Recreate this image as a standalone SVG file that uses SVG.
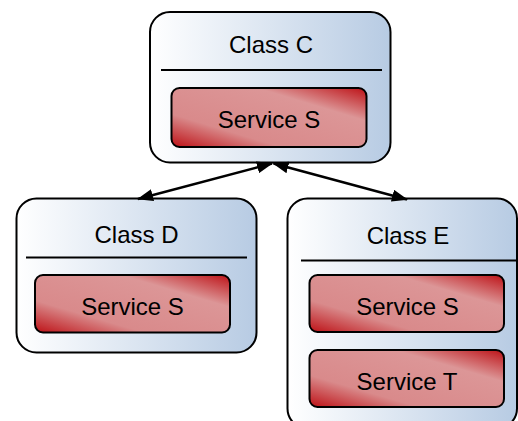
<svg xmlns="http://www.w3.org/2000/svg" width="518" height="421" viewBox="0 0 518 421">
  <defs>
    <linearGradient id="classFill" x1="0" y1="0" x2="1" y2="0">
      <stop offset="0" stop-color="#ffffff"/>
      <stop offset="1" stop-color="#b7cbe3"/>
    </linearGradient>
    <linearGradient id="serviceFill" x1="0" y1="1" x2="1" y2="0">
      <stop offset="0" stop-color="#bd1116"/>
      <stop offset="0.28" stop-color="#d98a8b"/>
      <stop offset="0.72" stop-color="#dc9697"/>
      <stop offset="1" stop-color="#bd1116"/>
    </linearGradient>
    <marker id="head" viewBox="0 0 16 12" refX="15" refY="6" markerWidth="16" markerHeight="12" markerUnits="userSpaceOnUse" orient="auto-start-reverse">
      <path d="M0,0 L16,6 L0,12 z" fill="#000"/>
    </marker>
  </defs>
  <style>
    .cls { fill: url(#classFill); stroke: #000; stroke-width: 2; }
    .svc { fill: url(#serviceFill); stroke: #000; stroke-width: 2; }
    .div { stroke: #000; stroke-width: 2; }
    .lbl { font-family: "Liberation Sans", Arial, sans-serif; font-size: 24px; fill: #000; text-anchor: middle; }
    .edge { stroke: #000; stroke-width: 2.5; fill: none; marker-start: url(#head); marker-end: url(#head); }
  </style>

  <g id="classC">
    <rect class="cls" x="150" y="12" width="240.5" height="150.5" rx="20"/>
    <text class="lbl" x="271" y="52.5">Class C</text>
    <line class="div" x1="161" y1="70" x2="382" y2="70"/>
    <g id="classC-serviceS">
      <rect class="svc" x="171.5" y="88" width="195" height="59" rx="8"/>
      <text class="lbl" x="269" y="128">Service S</text>
    </g>
  </g>

  <g id="classD">
    <rect class="cls" x="16.5" y="198.5" width="240" height="154" rx="20"/>
    <text class="lbl" x="136.5" y="242.5">Class D</text>
    <line class="div" x1="26" y1="257.5" x2="247" y2="257.5"/>
    <g id="classD-serviceS">
      <rect class="svc" x="35" y="275" width="195" height="57.5" rx="8"/>
      <text class="lbl" x="132.5" y="315">Service S</text>
    </g>
  </g>

  <g id="classE">
    <rect class="cls" x="287.5" y="198.5" width="229.5" height="230" rx="20"/>
    <text class="lbl" x="408" y="243.5">Class E</text>
    <line class="div" x1="301" y1="260.5" x2="517" y2="260.5"/>
    <g id="classE-serviceS">
      <rect class="svc" x="309.5" y="275" width="194.5" height="57" rx="8"/>
      <text class="lbl" x="407.5" y="315">Service S</text>
    </g>
    <g id="classE-serviceT">
      <rect class="svc" x="309.5" y="350" width="194.5" height="57" rx="8"/>
      <text class="lbl" x="407" y="390">Service T</text>
    </g>
  </g>

  <g id="connectors">
    <line class="edge" x1="138" y1="199" x2="272" y2="163.5"/>
    <line class="edge" x1="273.5" y1="163.5" x2="407" y2="199.5"/>
  </g>
</svg>
